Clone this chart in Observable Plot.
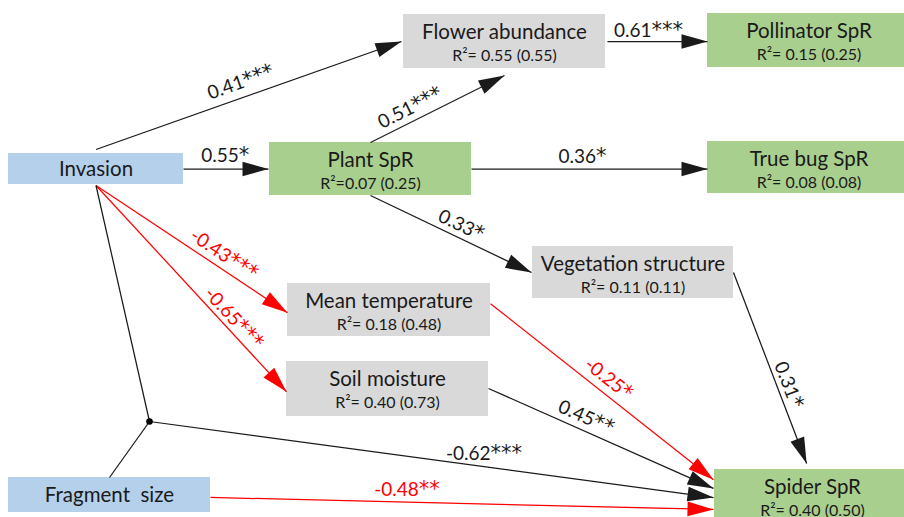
<!DOCTYPE html>
<html>
<head>
<meta charset="utf-8">
<script src="https://cdn.jsdelivr.net/npm/d3@7"></script>
<script src="https://cdn.jsdelivr.net/npm/@observablehq/plot@0.6"></script>
<style>
  html, body { margin: 0; padding: 0; background: #fff; overflow: hidden; }
  #chart svg text { white-space: pre; }
</style>
</head>
<body>
<div id="chart"></div>
<script>
// ---- Path model: variables ----
const nodeIds = ["inv", "frag", "plant", "flower", "veg", "temp", "soil", "poll", "bug", "spider", "hub"];
const nodeLabels = ["Invasion", "Fragment  size", "Plant SpR", "Flower abundance", "Vegetation structure",
  "Mean temperature", "Soil moisture", "Pollinator SpR", "True bug SpR", "Spider SpR", ""];
const nodeTypes = ["driver", "driver", "biotic", "habitat", "habitat", "habitat", "habitat",
  "biotic", "biotic", "biotic", "interaction"];
// explained variance: marginal R² (conditional R² in brackets)
const r2Marginal = [null, null, 0.07, 0.55, 0.11, 0.18, 0.40, 0.15, 0.08, 0.40, null];
const r2Conditional = [null, null, 0.25, 0.55, 0.11, 0.48, 0.73, 0.25, 0.08, 0.50, null];
const r2Gap = ["", "", "", " ", " ", " ", " ", " ", " ", " ", ""];

// ---- Path model: standardized path coefficients ----
const edgeFrom = ["inv", "inv", "inv", "inv", "inv", "frag", "hub", "frag", "plant", "plant", "plant", "flower", "veg", "temp", "soil"];
const edgeTo = ["flower", "plant", "temp", "soil", "hub", "hub", "spider", "spider", "flower", "bug", "veg", "poll", "spider", "spider", "spider"];
const edgeCoef = [0.41, 0.55, -0.43, -0.65, null, null, -0.62, -0.48, 0.51, 0.36, 0.33, 0.61, 0.31, -0.25, 0.45];
const edgeStars = ["***", "*", "***", "***", "", "", "***", "**", "***", "*", "*", "***", "*", "*", "**"];

// ---- Diagram layout (pixels) ----
// boxes: [left, top, right, bottom]
const nodeBoxes = [
  [8, 153, 183, 184], [8, 477, 210, 512], [269, 142, 471, 195], [403, 14, 605, 68],
  [532, 246, 733, 298], [287, 283, 490, 336], [286, 361, 488, 416], [707, 13, 910, 67],
  [707, 141, 910, 193], [714, 469, 910, 523], [149, 421, 149, 421]
];
// attachment ports: [side, fraction along side, gap]
const edgeSrcPort = [["t", 0.5, 4], ["r", 0.5, 0], ["b", 0.5, 1], ["b", 0.5, 1], ["b", 0.5, 1], ["t", 0.5, 0],
  ["c", 0, 0], ["r", 0.57, 0], ["t", 0.5, 0], ["r", 0.5, 0], ["b", 0.5, 0], ["r", 0.5, 2], ["r", 0.5, 0],
  ["r", 0.38, 0], ["r", 0.49, 0]];
const edgeDstPort = [["l", 0.5, 2], ["l", 0.5, 1], ["l", 0.55, 0], ["l", 0.55, 0], ["c", 0, 0], ["c", 0, 0],
  ["l", 0.52, 1], ["l", 0.74, 1], ["b", 0.5, 7], ["l", 0.53, 0], ["l", 0.5, 1], ["l", 0.52, 0], ["t", 0.47, 6],
  ["l", 0.19, 1], ["l", 0.35, 1]];
// coefficient labels: [position along edge, offset from edge, follow edge angle]
const labelPlacement = [[0.49, 15, true], [0.49, 13, false], [0.63, 13, true], [0.68, 11, true], null, null,
  [0.59, 12.5, false], [0.39, 12.5, false], [0.34, 13, true], [0.47, 12, false], [0.53, 12, true],
  [0.41, 11, false], [0.61, 11, true], [0.49, 14, true], [0.41, 13, true]];

const typeFill = {driver: "#b4d0ea", biotic: "#a9cf8e", habitat: "#d9d9d9"};
const RED = "#ff0000", INK = "#1a1a1a";
const FONT = "Lato, 'Open Sans', sans-serif";

// ---- derived tables ----
const boxOf = Object.fromEntries(nodeIds.map((id, i) => [id, nodeBoxes[i]]));

function port([x0, y0, x1, y1], [side, f, g]) {
  if (side === "t") return [x0 + (x1 - x0) * f, y0 - g];
  if (side === "b") return [x0 + (x1 - x0) * f, y1 + g];
  if (side === "l") return [x0 - g, y0 + (y1 - y0) * f];
  if (side === "r") return [x1 + g, y0 + (y1 - y0) * f];
  return [x0, y0];
}

const nodes = nodeIds.map((id, i) => {
  const [x0, y0, x1, y1] = nodeBoxes[i];
  return {
    id, label: nodeLabels[i], type: nodeTypes[i], x0, y0, x1, y1,
    cx: (x0 + x1) / 2,
    r2: r2Marginal[i] == null ? null
      : `R²=${r2Gap[i]}${r2Marginal[i].toFixed(2)} (${r2Conditional[i].toFixed(2)})`
  };
});
const boxes = nodes.filter(d => d.type !== "interaction");

const edges = edgeFrom.map((from, i) => {
  const [xa, ya] = port(boxOf[from], edgeSrcPort[i]);
  const [xb, yb] = port(boxOf[edgeTo[i]], edgeDstPort[i]);
  const coef = edgeCoef[i];
  const interaction = from === "hub" || edgeTo[i] === "hub";
  const color = coef != null && coef < 0 && !interaction ? RED : INK;
  const dx = xb - xa, dy = yb - ya, len = Math.hypot(dx, dy);
  return {i, from, to: edgeTo[i], xa, ya, xb, yb, dx, dy, len, coef, color,
    head: edgeTo[i] !== "hub",
    text: coef == null ? null : coef.toFixed(2) + edgeStars[i]};
});

// filled arrowheads as small triangles at the target end
const HEAD_L = 26, HEAD_W = 7.3;
const heads = edges.filter(e => e.head).flatMap(e => {
  const ux = e.dx / e.len, uy = e.dy / e.len;
  const bx = e.xb - HEAD_L * ux, by = e.yb - HEAD_L * uy;
  return [
    {id: e.i, color: e.color, x: e.xb, y: e.yb},
    {id: e.i, color: e.color, x: bx - HEAD_W * uy, y: by + HEAD_W * ux},
    {id: e.i, color: e.color, x: bx + HEAD_W * uy, y: by - HEAD_W * ux}
  ];
});

const labels = edges.filter(e => e.text).map(e => {
  const [t, off, follow] = labelPlacement[e.i];
  const nx = e.dy / e.len, ny = -e.dx / e.len;
  return {
    text: e.text, color: e.color,
    x: e.xa + t * e.dx + off * nx,
    y: e.ya + t * e.dy + off * ny,
    rotate: follow ? Math.atan2(e.dy, e.dx) * 180 / Math.PI : 0
  };
});

const hub = nodes.filter(d => d.type === "interaction");

const chart = Plot.plot({
  width: 904,
  height: 517,
  margin: 0,
  x: {domain: [0, 904], range: [0, 904], axis: null},
  y: {domain: [0, 517], range: [0, 517], axis: null},
  color: {type: "identity"},
  style: {background: "#fff", fontFamily: FONT, overflow: "hidden"},
  marks: [
    Plot.rect(boxes, {x1: "x0", x2: "x1", y1: "y0", y2: "y1", fill: d => typeFill[d.type]}),
    Plot.link(edges, {x1: "xa", y1: "ya", x2: "xb", y2: "yb", stroke: "color", strokeWidth: 1.25}),
    Plot.line(heads.filter(d => d.color === INK), {x: "x", y: "y", z: "id", fill: INK, stroke: "none"}),
    Plot.line(heads.filter(d => d.color === RED), {x: "x", y: "y", z: "id", fill: RED, stroke: "none"}),
    Plot.dot(hub, {x: "x0", y: "y0", r: 3.3, fill: "#000", stroke: "none"}),
    // variable names
    Plot.text(boxes, {
      x: "cx", y: d => d.r2 ? d.y0 + 17.5 : (d.y0 + d.y1) / 2,
      text: "label", fontSize: 20.5, fill: "#1a1a1a", textAnchor: "middle"
    }),
    // explained variance
    Plot.text(boxes.filter(d => d.r2), {
      x: "cx", y: d => d.y0 + 41, text: "r2", fontSize: 16, fill: "#1a1a1a", textAnchor: "middle"
    }),
    // path coefficients
    Plot.text(labels, {
      x: "x", y: "y", text: "text", rotate: "rotate", fill: "color", fontSize: 19, textAnchor: "middle"
    })
  ]
});

// significance stars: set in a face with larger, raised asterisks
chart.querySelectorAll("text").forEach(t => {
  if (t.childElementCount) return;
  const m = t.textContent.match(/^(.*?)(\*+)$/);
  if (!m) return;
  t.textContent = m[1];
  const stars = document.createElementNS("http://www.w3.org/2000/svg", "tspan");
  stars.setAttribute("font-family", "'DejaVu Sans', sans-serif");
  stars.setAttribute("font-size", "21");
  stars.textContent = m[2];
  t.appendChild(stars);
});

document.getElementById("chart").appendChild(chart);
</script>
</body>
</html>
